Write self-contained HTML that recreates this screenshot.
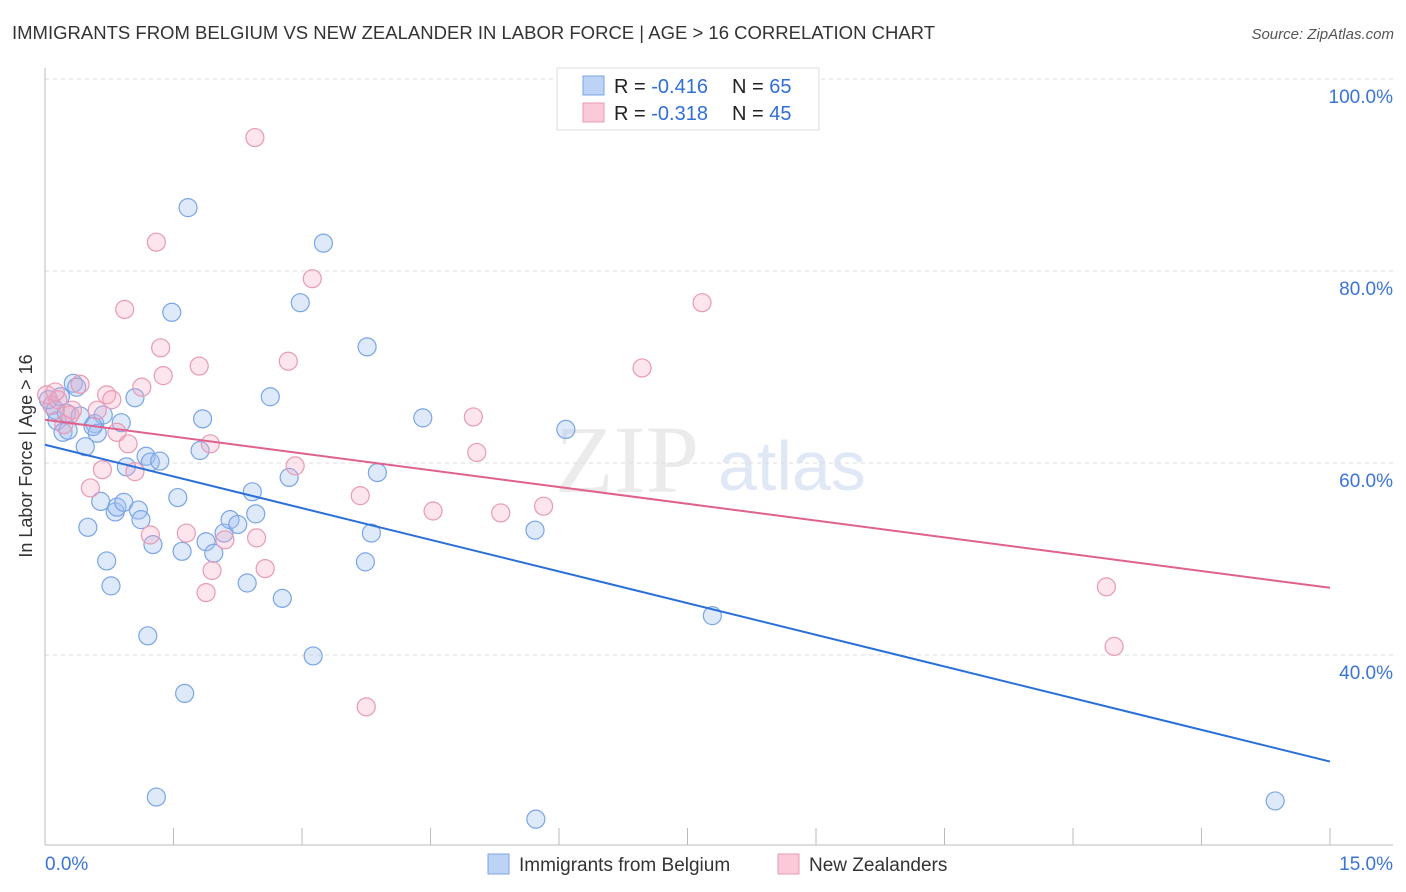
<!DOCTYPE html>
<html><head><meta charset="utf-8"><style>
body{margin:0;background:#fff;font-family:"Liberation Sans",sans-serif;}
svg{display:block}
</style></head><body>
<svg id="chart" width="1406" height="892" xmlns="http://www.w3.org/2000/svg">
<text x="12" y="39" font-size="18" fill="#333" textLength="923" lengthAdjust="spacingAndGlyphs">IMMIGRANTS FROM BELGIUM VS NEW ZEALANDER IN LABOR FORCE | AGE &gt; 16 CORRELATION CHART</text>
<text x="1394" y="39" font-size="15" fill="#555" font-style="italic" text-anchor="end">Source: ZipAtlas.com</text>
<text x="32" y="456" font-size="18" fill="#333" text-anchor="middle" transform="rotate(-90 32 456)">In Labor Force | Age &gt; 16</text>
<text x="555" y="492" font-size="96" fill="#ebebeb" font-family="Liberation Serif,serif">ZIP</text>
<text x="718" y="490" font-size="70" fill="#e0e8f6">atlas</text>
<g id="grid"></g>
<g id="axes"></g>
<g id="pts"></g>
<g id="lines"></g>
<g>
<rect x="557" y="68" width="262" height="62" fill="#fff" stroke="#ddd"/>
<rect x="583" y="76" width="21" height="19" fill="#bcd3f5" stroke="#7aa5e6"/>
<rect x="583" y="103" width="21" height="19" fill="#fbc9d8" stroke="#e89ab5"/>
<text x="614" y="93" font-size="20" fill="#222">R = <tspan fill="#2f6fd6">-0.416</tspan><tspan x="732">N = </tspan><tspan fill="#2f6fd6">65</tspan></text>
<text x="614" y="120" font-size="20" fill="#222">R = <tspan fill="#2f6fd6">-0.318</tspan><tspan x="732">N = </tspan><tspan fill="#2f6fd6">45</tspan></text>
</g>
<g>
<rect x="488" y="854" width="21" height="20" fill="#bcd3f5" stroke="#7aa5e6"/>
<text x="519" y="871" font-size="19" fill="#333">Immigrants from Belgium</text>
<rect x="778" y="854" width="21" height="20" fill="#fbc9d8" stroke="#e89ab5"/>
<text x="809" y="871" font-size="19" fill="#333">New Zealanders</text>
</g>
</svg>
<script>
const blueX=[0.08,0.14,0.12,0.21,0.27,0.33,0.37,0.47,0.50,0.58,0.61,0.65,0.68,0.72,0.77,0.82,0.84,0.89,0.92,0.95,1.05,1.09,1.12,1.18,1.20,1.23,1.26,1.30,1.34,1.48,1.55,1.60,1.63,1.67,1.81,1.84,1.88,1.97,2.09,2.16,2.25,2.36,2.42,2.46,2.63,2.77,2.85,2.98,3.13,3.25,3.74,3.76,3.81,3.88,4.41,5.72,5.73,6.08,7.79,14.36,0.04,0.18,0.25,0.41,0.56];
const blueY=[66.0,64.4,65.5,63.2,63.4,68.3,67.9,61.7,53.3,64.1,63.1,56.0,65.0,49.8,47.2,54.9,55.4,64.2,55.9,59.6,66.8,55.1,54.1,60.7,42.0,60.1,51.5,25.2,60.2,75.7,56.4,50.8,36.0,86.6,61.3,64.6,51.8,50.6,52.7,54.1,53.6,47.5,57.0,54.7,66.9,45.9,58.5,76.7,39.9,82.9,49.7,72.1,52.7,59.0,64.7,53.0,22.9,63.5,44.1,24.8,66.6,66.9,65.2,64.9,63.8];
const pinkX=[0.02,0.08,0.15,0.22,0.32,0.41,0.53,0.61,0.67,0.72,0.78,0.84,0.93,0.97,1.05,1.13,1.23,1.30,1.35,1.38,1.65,1.80,1.88,1.93,1.95,2.10,2.45,2.47,2.57,2.84,2.92,3.12,3.68,3.75,4.53,5.00,5.04,5.32,5.82,6.97,7.67,12.39,12.48,0.29,0.12];
const pinkY=[67.1,66.0,66.6,64.0,65.5,68.2,57.4,65.5,59.3,67.1,66.6,63.2,76.0,62.0,59.1,67.9,52.5,83.0,72.0,69.1,52.7,70.1,46.5,62.0,48.8,52.0,93.9,52.2,49.0,70.6,59.7,79.2,56.6,34.6,55.0,64.8,61.1,54.8,55.5,69.9,76.7,47.1,40.9,65.0,67.4];
const blueLine=[61.9,28.9];
const pinkLine=[64.5,47.0];
const yTicks=[100,80,60,40];
const xTickVals=[0,1.5,3,4.5,6,7.5,9,10.5,12,13.5,15];
const NS="http://www.w3.org/2000/svg";
const sx=v=>45+v/15*1285;
const sy=v=>79+(100-v)*9.6;
function mk(p,t,a){const e=document.createElementNS(NS,t);for(const k in a)e.setAttribute(k,a[k]);p.appendChild(e);return e;}
const grid=document.getElementById('grid'),axes=document.getElementById('axes'),pts=document.getElementById('pts'),lines=document.getElementById('lines');
yTicks.forEach(v=>{
 const l=mk(grid,'line',{x1:45,x2:1393,y1:sy(v),y2:sy(v),stroke:'#ddd','stroke-dasharray':'4,4'});
 
 
 const t=mk(grid,'text',{x:1393,y:sy(v)+24,'font-size':19,fill:'#3a74d6','text-anchor':'end'});
 t.textContent=v.toFixed(1)+'%';
 
 
});
const yax=mk(axes,'line',{x1:45,x2:45,y1:68,y2:845,stroke:'#bbb'});


const xax=mk(axes,'line',{x1:45,x2:1393,y1:845,y2:845,stroke:'#bbb'});


xTickVals.forEach(v=>{
 const l=mk(axes,'line',{x1:sx(v),x2:sx(v),y1:828,y2:845,stroke:'#bbb'});
 
 
});
[[0,'start',45],[15,'end',1393]].forEach(([v,a,x])=>{
 const t=mk(axes,'text',{x:x,y:870,'font-size':19,fill:'#3a74d6','text-anchor':a});
 t.textContent=v.toFixed(1)+'%';
 
 
});
function dots(X,Y,fill,stroke,name){X.forEach((x,i)=>{
 const c=mk(pts,'circle',{cx:sx(x),cy:sy(Y[i]),r:9,fill:fill,stroke:stroke,'stroke-width':1.2});
 
 
});}
dots(blueX,blueY,'rgba(160,192,240,0.35)','#7aa5e6','belgium-point');
dots(pinkX,pinkY,'rgba(245,170,195,0.3)','#e89ab5','nz-point');
const bl=mk(lines,'line',{x1:sx(0),y1:sy(blueLine[0]),x2:sx(15),y2:sy(blueLine[1]),stroke:'#2a6fd8','stroke-width':2});


const pl=mk(lines,'line',{x1:sx(0),y1:sy(pinkLine[0]),x2:sx(15),y2:sy(pinkLine[1]),stroke:'#e0608e','stroke-width':2});


</script>
</body></html>
